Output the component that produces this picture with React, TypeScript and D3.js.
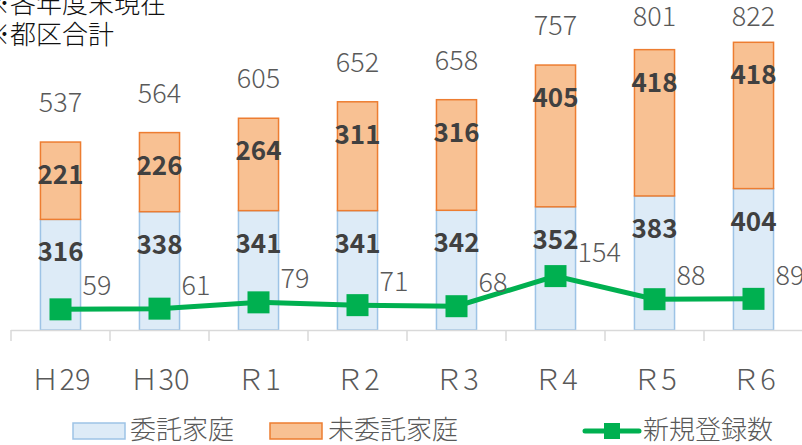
import React from "react";
import * as d3 from "d3";

const categories = ["Ｈ29", "Ｈ30", "Ｒ1", "Ｒ2", "Ｒ3", "Ｒ4", "Ｒ5", "Ｒ6"];
const entrusted = [316, 338, 341, 341, 342, 352, 383, 404];
const notEntrusted = [221, 226, 264, 311, 316, 405, 418, 418];
const newRegistrations = [59, 61, 79, 71, 68, 154, 88, 89];
const legendLabels = ["委託家庭", "未委託家庭", "新規登録数"];
const noteLines = ["※各年度末現在", "※都区合計"];

const W = 802;
const H = 445;
const FONT = "'Noto Sans CJK JP', 'Noto Sans', sans-serif";
const BLUE_FILL = "#DDEBF7";
const BLUE_STROKE = "#9DC3E6";
const ORANGE_FILL = "#F8C193";
const ORANGE_STROKE = "#ED7D31";
const GREEN = "#00B050";
const GRAY_TEXT = "#595959";
const DARK_TEXT = "#404040";

export default function App() {
  const x = d3.scaleBand<string>().domain(categories).range([11, 803]).paddingInner(0.595).paddingOuter(0.2975);
  const step = x.step();
  const y = d3.scaleLinear().domain([0, 900]).range([330, 15]);
  const bw = x.bandwidth();
  const cx = (c: string) => (x(c) as number) + bw / 2;

  const line = d3
    .line<number>()
    .x((_, i) => cx(categories[i]))
    .y((d) => y(d));

  return (
    <svg width={W} height={H} style={{ position: "absolute", left: 0, top: 0, fontFamily: FONT }}>
      <rect x={0} y={0} width={W} height={H} fill="#fff" />
      {/* note */}
      <g fill="#111" fontSize={26} fontWeight={300}>
        <text x={-16} y={13}>{noteLines[0]}</text>
        <text x={-16} y={44}>{noteLines[1]}</text>
      </g>
      {/* bars */}
      {categories.map((c, i) => {
        const b = x(c) as number;
        const t = entrusted[i] + notEntrusted[i];
        return (
          <g key={c}>
            <rect x={b} y={y(entrusted[i])} width={bw} height={y(0) - y(entrusted[i])} fill={BLUE_FILL} stroke={BLUE_STROKE} strokeWidth={1.5} />
            <rect x={b} y={y(t)} width={bw} height={y(entrusted[i]) - y(t)} fill={ORANGE_FILL} stroke={ORANGE_STROKE} strokeWidth={1.5} />
          </g>
        );
      })}
      {/* axis */}
      <line x1={11} x2={803} y1={330.5} y2={330.5} stroke="#D9D9D9" strokeWidth={1.5} />
      {d3.range(categories.length + 1).map((k) => (
        <line key={k} x1={11 + k * step} x2={11 + k * step} y1={330} y2={341} stroke="#D9D9D9" strokeWidth={1.5} />
      ))}
      {/* line */}
      <path d={line(newRegistrations) || ""} fill="none" stroke={GREEN} strokeWidth={5} />
      {newRegistrations.map((v, i) => (
        <rect key={i} x={cx(categories[i]) - 11} y={y(v) - 11} width={22} height={22} fill={GREEN} />
      ))}
      {/* segment labels */}
      {categories.map((c, i) => {
        const t = entrusted[i] + notEntrusted[i];
        return (
          <g key={c} fontSize={26} fontWeight={700} fill={DARK_TEXT} textAnchor="middle">
            <text x={cx(c)} y={y(entrusted[i]) + 42}>{entrusted[i]}</text>
            <text x={cx(c)} y={y(t) + 42}>{notEntrusted[i]}</text>
          </g>
        );
      })}
      {/* totals */}
      {categories.map((c, i) => {
        const t = entrusted[i] + notEntrusted[i];
        const by = Math.max(y(t) - 30, 26);
        return (
          <text key={c} x={cx(c)} y={by} fontSize={27} fontWeight={300} fill={GRAY_TEXT} textAnchor="middle">
            {t}
          </text>
        );
      })}
      {/* line labels */}
      {newRegistrations.map((v, i) => (
        <text key={i} x={cx(categories[i]) + 22} y={y(v) - 14} fontSize={27} fontWeight={300} fill={GRAY_TEXT}>
          {v}
        </text>
      ))}
      {/* x labels */}
      {categories.map((c) => (
        <text key={c} x={cx(c)} y={390} fontSize={29} fontWeight={300} fill={GRAY_TEXT} textAnchor="middle">
          {c}
        </text>
      ))}
      {/* legend */}
      <g fontSize={26} fontWeight={300} fill={GRAY_TEXT}>
        <rect x={73} y={423} width={52} height={16} fill={BLUE_FILL} stroke={BLUE_STROKE} strokeWidth={1.5} />
        <text x={130} y={439}>{legendLabels[0]}</text>
        <rect x={270} y={423} width={52} height={16} fill={ORANGE_FILL} stroke={ORANGE_STROKE} strokeWidth={1.5} />
        <text x={328} y={439}>{legendLabels[1]}</text>
        <line x1={585} x2={639} y1={431} y2={431} stroke={GREEN} strokeWidth={5} strokeLinecap="round" />
        <rect x={604} y={423} width={16} height={16} fill={GREEN} />
        <text x={643} y={439}>{legendLabels[2]}</text>
      </g>
    </svg>
  );
}
